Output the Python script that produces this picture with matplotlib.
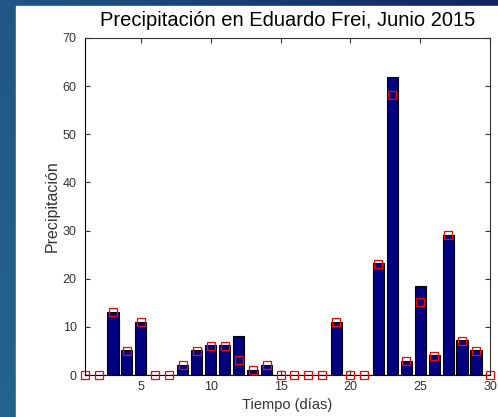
import numpy as np
import matplotlib
matplotlib.use('Agg')
import matplotlib.pyplot as plt
from matplotlib.patches import Rectangle

# Datos: precipitación diaria (barras) y estimación (cuadros rojos)
dias = list(range(1, 31))
precip = [0, 0, 13, 5.1, 11.1, 0, 0, 2, 5.1, 6.2, 6.2, 8.2, 1, 2, 0, 0, 0, 0, 11.1, 0,
          0, 23.2, 61.8, 3, 18.4, 4.1, 29, 7.2, 5.1, 0]
estimado = [0, 0, 13, 5, 11, 0, 0, 2, 5, 6, 6, 3.1, 1, 2, 0, 0, 0, 0, 11, 0,
            0, 23, 58.2, 3, 15.2, 4, 29, 7, 5, 0]
yticks = [0, 10, 20, 30, 40, 50, 60, 70]
xticks = [5, 10, 15, 20, 25, 30]

plt.rcParams['font.family'] = ['Liberation Sans', 'DejaVu Sans']

fig = plt.figure(figsize=(4.98, 4.17), dpi=100)

# fondo azul de la diapositiva con degradado
bg = fig.add_axes([0, 0, 1, 1], zorder=-10)
gx = np.linspace(0, 1, 200)
gy = np.linspace(0, 1, 200)
X, Y = np.meshgrid(gx, gy)
t = np.clip(X * 0.8 + (1 - Y) * 0.2, 0, 1)
c0 = np.array([36, 100, 142]) / 255
c1 = np.array([16, 36, 96]) / 255
img = c0[None, None, :] * (1 - t[..., None]) + c1[None, None, :] * t[..., None]
bg.imshow(img, extent=[0, 1, 0, 1], aspect='auto', origin='upper')
bg.add_patch(Rectangle((16 / 498, 0), 1, 1 - 6 / 417, color='white'))
bg.set_xlim(0, 1)
bg.set_ylim(0, 1)
bg.axis('off')

ax = fig.add_axes([85 / 498, 1 - 375 / 417, 405 / 498, 337 / 417])
ax.bar(dias, precip, width=0.8, color='#000080', edgecolor='black', linewidth=0.8, zorder=2)
ax.plot(dias, estimado, 's', mfc='none', mec='red', ms=5.5, mew=0.9, clip_on=False, zorder=3)
ax.axhline(0, color='black', lw=0.8, zorder=2)

ax.set_xlim(1, 30)
ax.set_ylim(0, 70)
ax.set_xticks(xticks)
ax.set_yticks(yticks)
ax.tick_params(direction='in', length=3.5, top=True, right=True, labelsize=9,
               labelcolor='#333333', color='#333333')
ax.tick_params(axis='y', pad=6)
ax.tick_params(axis='x', pad=4)
for s in ax.spines.values():
    s.set_linewidth(0.8)
    s.set_color('#333333')
ax.spines['left'].set_color('black')
ax.spines['bottom'].set_color('black')

ax.set_title('Precipitación en Eduardo Frei, Junio 2015', fontsize=14.5, pad=9)
ax.set_xlabel('Tiempo (días)', fontsize=10.5, color='#333333', labelpad=4)
ax.set_ylabel('Precipitación', fontsize=11.5, color='#333333', labelpad=2)

fig.savefig('out.png', dpi=100)
